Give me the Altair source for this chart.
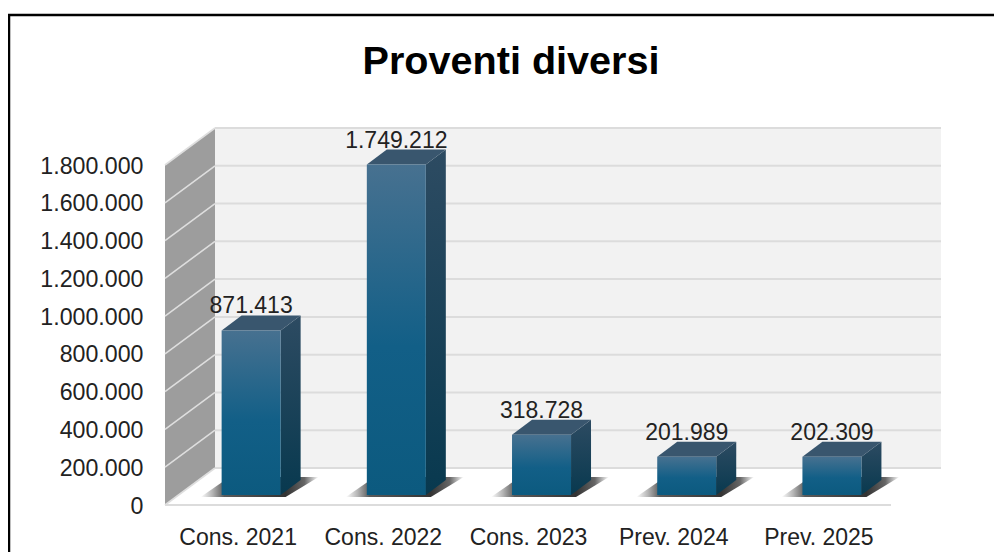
import json
import altair as alt
import pandas as pd

categories = ["Cons. 2021", "Cons. 2022", "Cons. 2023", "Prev. 2024", "Prev. 2025"]
values = [871413, 1749212, 318728, 201989, 202309]
tick_values = [0, 200000, 400000, 600000, 800000, 1000000, 1200000, 1400000, 1600000, 1800000]

# Pseudo-3D geometry, in axis units (x: category slots, y: value units)
UNITS_PER_PX_Y = 1800000 / 340
UNITS_PER_PX_X = 1 / 145.2
WALL_DX = 50 * UNITS_PER_PX_X
WALL_DY = 37 * UNITS_PER_PX_Y
BAR_BASE = 10 * UNITS_PER_PX_Y
BAR_LEFT = 0.39
BAR_W = 59 * UNITS_PER_PX_X
BAR_DX = 20 * UNITS_PER_PX_X
BAR_DY = 15 * UNITS_PER_PX_Y
N = len(categories)
X_MAX = N + WALL_DX
Y_MAX = tick_values[-1] + WALL_DY

FONT = "Liberation Sans"
TEXT = "#222222"

cat_ticks = [i + 0.5 for i in range(N)]
cat_expr = f"{json.dumps(categories)}[floor(datum.value)]"

x_scale = alt.Scale(domain=[0, X_MAX], nice=False, zero=False)
y_scale = alt.Scale(domain=[0, Y_MAX], nice=False, zero=False)
x_axis = alt.Axis(
    values=cat_ticks, labelExpr=cat_expr, domain=False, ticks=False, grid=False, title=None,
    labelFontSize=23, labelFont=FONT, labelColor=TEXT, labelPadding=21,
    labelAngle=0, labelOverlap=False, labelFlush=False)
y_axis = alt.Axis(
    values=tick_values, format=",d", labelExpr="replace(datum.label, /,/g, '.')", title=None,
    domain=False, ticks=False, grid=False, labelFontSize=23.2, labelFont=FONT, labelOffset=1,
    labelColor=TEXT, labelPadding=22, labelOverlap=False, labelFlush=False)
X = lambda f: alt.X(f, type="quantitative", scale=x_scale, axis=x_axis)
Y = lambda f: alt.Y(f, type="quantitative", scale=y_scale, axis=y_axis, stack=None)


def grad(stops, horizontal=False):
    return alt.Gradient(
        gradient="linear",
        stops=[alt.GradientStop(color=c, offset=o) for o, c in stops],
        x1=0, y1=0, x2=1 if horizontal else 0, y2=0 if horizontal else 1,
    )


bars = pd.DataFrame({"i": range(N), "cat": categories, "v": values})
bars["l"] = bars.i + BAR_LEFT
bars["r"] = bars.l + BAR_W
bars["b"] = BAR_BASE
bars["t"] = bars.v + BAR_BASE
bars["cx"] = bars.l + BAR_W / 2
bars["label"] = [f"{v:,}".replace(",", ".") for v in values]
bars["ly"] = bars.t + BAR_DY

side = pd.concat([
    bars.assign(x=bars.r, y=bars.t, y2=BAR_BASE),
    bars.assign(x=bars.r + BAR_DX, y=bars.t + BAR_DY, y2=BAR_BASE + BAR_DY),
])
top = pd.concat([
    bars.assign(y=bars.t, x=bars.l, x2=bars.r),
    bars.assign(y=bars.t + BAR_DY, x=bars.l + BAR_DX, x2=bars.r + BAR_DX),
])
shadow = pd.concat([
    bars.assign(y=BAR_BASE - 2 * UNITS_PER_PX_Y, x=bars.l - 21 * UNITS_PER_PX_X, x2=bars.r + 5 * UNITS_PER_PX_X),
    bars.assign(y=BAR_BASE + 18 * UNITS_PER_PX_Y, x=bars.l + 8 * UNITS_PER_PX_X, x2=bars.r + 38 * UNITS_PER_PX_X),
])

grid = pd.DataFrame({"v": tick_values})
grid["vb"] = grid.v + WALL_DY
grid["x0"] = 0.0
grid["xd"] = WALL_DX
grid["xm"] = X_MAX

wall_side = pd.DataFrame({"x": [0, WALL_DX], "y": [tick_values[-1], Y_MAX], "y2": [0, WALL_DY]})
floor = pd.DataFrame({"y": [0, WALL_DY], "x": [0, WALL_DX], "x2": [N, X_MAX]})
back = pd.DataFrame({"x": [WALL_DX], "x2": [X_MAX], "y": [WALL_DY], "y2": [Y_MAX]})
front_line = pd.DataFrame({"x": [0], "x2": [N], "y": [0]})

back_l = alt.Chart(back).mark_rect(color="#f2f2f2").encode(x=X("x"), x2="x2", y=Y("y"), y2="y2")
floor_l = alt.Chart(floor).mark_area(orient="horizontal", color="#ffffff").encode(y=Y("y"), x=X("x"), x2="x2")
wall_l = alt.Chart(wall_side).mark_area(orient="vertical", color="#9d9d9d").encode(x=X("x"), y=Y("y"), y2="y2")
grid_back = alt.Chart(grid).mark_rule(color="#dcdcdc", strokeWidth=2).encode(x=X("xd"), x2="xm", y=Y("vb"))
grid_side = alt.Chart(grid).mark_rule(color="#dedede", strokeWidth=1.6).encode(x=X("x0"), x2="xd", y=Y("v"), y2="vb")
front_l = alt.Chart(front_line).mark_rule(color="#dcdcdc", strokeWidth=2).encode(x=X("x"), x2="x2", y=Y("y"))

shadow_l = alt.Chart(shadow).mark_area(
    orient="horizontal",
    color=grad([(0, "#ffffff"), (0.1, "#b5b5b5"), (0.2, "#5a5a5a"), (0.72, "#333333"), (0.88, "#666666"), (1, "#ffffff")], True),
).encode(y=Y("y"), x=X("x"), x2="x2", detail="i:N")

front_face = alt.Chart(bars).mark_rect(
    color=grad([(0, "#477190"), (0.55, "#125f87"), (1, "#0c5a7f")]),
).encode(x=X("l"), x2="r", y=Y("t"), y2="b")
side_face = alt.Chart(side).mark_area(
    orient="vertical",
    color=grad([(0, "#2d4b62"), (1, "#08394f")]),
).encode(x=X("x"), y=Y("y"), y2="y2", detail="i:N")
top_face = alt.Chart(top).mark_area(orient="horizontal", color="#39566e").encode(
    y=Y("y"), x=X("x"), x2="x2", detail="i:N")

labels = alt.Chart(bars).mark_text(
    fontSize=23, font=FONT, color=TEXT, baseline="alphabetic", dy=-2,
).encode(x=X("cx"), y=Y("ly"), text="label:N")

frame_top = alt.Chart(grid.head(1)).mark_rule(color="#000000", strokeWidth=2.5).encode(
    x=alt.value(-157), x2=alt.value(829), y=alt.value(-113))
frame_left = alt.Chart(grid.head(1)).mark_rule(color="#000000", strokeWidth=2.5).encode(
    x=alt.value(-156), y=alt.value(-113), y2=alt.value(424))

chart = alt.layer(
    back_l, floor_l, wall_l, grid_back, grid_side, front_l, shadow_l,
    side_face, top_face, front_face, labels, frame_top, frame_left,
).properties(
    width=776, height=377,
    title=alt.TitleParams("Proventi diversi", fontSize=39.6, font=FONT, fontWeight="bold",
                          color="#000000", anchor="middle", dx=-42, offset=0, dy=69),
    padding={"left": 157, "top": 120, "right": 53, "bottom": 47},
    autosize=alt.AutoSizeParams(type="none"),
    background="#ffffff",
).configure_view(stroke=None)

chart.save("out.html", embed_options={"renderer": "svg", "actions": False})
